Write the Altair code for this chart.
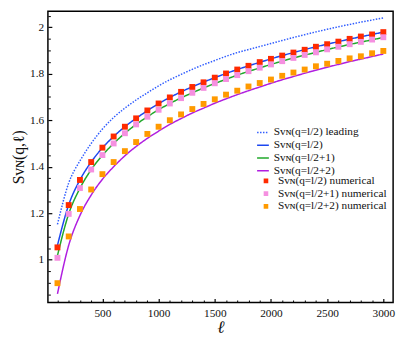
import altair as alt
import pandas as pd

# ---- data ----
ell = [100, 200, 300, 400, 500, 600, 700, 800, 900, 1000,
       1100, 1200, 1300, 1400, 1500, 1600, 1700, 1800, 1900, 2000,
       2100, 2200, 2300, 2400, 2500, 2600, 2700, 2800, 2900, 3000]

lead = [1.152, 1.330, 1.425, 1.500, 1.562, 1.612, 1.652, 1.687, 1.718, 1.748,
        1.774, 1.797, 1.819, 1.839, 1.857, 1.875, 1.891, 1.904, 1.917, 1.930,
        1.943, 1.956, 1.968, 1.980, 1.991, 2.002, 2.012, 2.022, 2.031, 2.040]
half = [1.062, 1.236, 1.343, 1.420, 1.481, 1.530, 1.572, 1.608, 1.641, 1.671,
        1.698, 1.722, 1.744, 1.764, 1.783, 1.801, 1.818, 1.834, 1.849, 1.864,
        1.878, 1.891, 1.904, 1.916, 1.927, 1.938, 1.949, 1.959, 1.969, 1.979]
half1 = [1.018, 1.197, 1.307, 1.387, 1.449, 1.500, 1.544, 1.582, 1.615, 1.645,
         1.672, 1.696, 1.718, 1.739, 1.758, 1.776, 1.794, 1.810, 1.825, 1.840,
         1.854, 1.868, 1.880, 1.892, 1.904, 1.915, 1.926, 1.936, 1.946, 1.956]
half2 = [0.853, 1.062, 1.190, 1.278, 1.346, 1.400, 1.447, 1.487, 1.522, 1.553,
         1.582, 1.607, 1.631, 1.652, 1.673, 1.692, 1.710, 1.727, 1.743, 1.759,
         1.774, 1.788, 1.802, 1.815, 1.828, 1.840, 1.852, 1.863, 1.874, 1.885]

num_half = [1.053, 1.235, 1.343, 1.420, 1.482, 1.530, 1.572, 1.608, 1.642, 1.672,
            1.698, 1.722, 1.743, 1.763, 1.783, 1.801, 1.818, 1.834, 1.850, 1.864,
            1.878, 1.891, 1.903, 1.916, 1.927, 1.938, 1.950, 1.960, 1.969, 1.979]
num_half1 = [1.008, 1.197, 1.308, 1.388, 1.450, 1.500, 1.544, 1.582, 1.615, 1.645,
             1.672, 1.695, 1.718, 1.739, 1.759, 1.777, 1.794, 1.811, 1.826, 1.840,
             1.854, 1.868, 1.881, 1.892, 1.905, 1.916, 1.927, 1.937, 1.947, 1.957]
num_half2 = [0.899, 1.100, 1.218, 1.302, 1.368, 1.420, 1.467, 1.506, 1.541, 1.572,
             1.600, 1.625, 1.648, 1.670, 1.690, 1.710, 1.727, 1.745, 1.760, 1.775,
             1.791, 1.805, 1.818, 1.832, 1.843, 1.855, 1.866, 1.875, 1.888, 1.898]

line_names = ["S\u1d20\u0274(q=l/2) leading", "S\u1d20\u0274(q=l/2)",
              "S\u1d20\u0274(q=l/2+1)", "S\u1d20\u0274(q=l/2+2)"]
point_names = ["S\u1d20\u0274(q=l/2) numerical", "S\u1d20\u0274(q=l/2+1) numerical",
               "S\u1d20\u0274(q=l/2+2) numerical"]
line_colors = ["#2f5cff", "#1c47f0", "#20a82a", "#b01ee0"]
point_colors = ["#ff2a00", "#f590e0", "#ff9a00"]

x_major = [500, 1000, 1500, 2000, 2500, 3000]
x_minor = [100, 200, 300, 400, 600, 700, 800, 900, 1100, 1200, 1300, 1400,
           1600, 1700, 1800, 1900, 2100, 2200, 2300, 2400, 2600, 2700, 2800, 2900]
y_major = [1.0, 1.2, 1.4, 1.6, 1.8, 2.0]
y_minor = [0.85, 0.9, 0.95, 1.05, 1.1, 1.15, 1.25, 1.3, 1.35, 1.45, 1.5, 1.55,
           1.65, 1.7, 1.75, 1.85, 1.9, 1.95, 2.05]

# ---- tables ----
line_rows = []
for name, vals in zip(line_names, [lead, half, half1, half2]):
    for l, v in zip(ell, vals):
        line_rows.append({"l": l, "S": v, "series": name})
lines_df = pd.DataFrame(line_rows)

pt_rows = []
for name, vals in zip(point_names, [num_half, num_half1, num_half2]):
    for l, v in zip(ell, vals):
        pt_rows.append({"l": l, "S": v, "series": name})
pts_df = pd.DataFrame(pt_rows)

SERIF = "Liberation Serif"
TXT = "#111111"
xscale = alt.Scale(domain=[15, 3087], nice=False, zero=False)
yscale = alt.Scale(domain=[0.816, 2.069], nice=False, zero=False)

x_major_axis = alt.Axis(values=x_major, orient="bottom", offset=-4, tickSize=4,
                        tickWidth=1.2, tickColor="black", domain=False, grid=False,
                        labelPadding=5, labelFont=SERIF, labelFontSize=11.5,
                        labelColor=TXT, labelFlush=False, format="d",
                        title="\u2113", titleFont=SERIF, titleFontStyle="italic",
                        titleFontWeight="normal", titleFontSize=18, titleColor=TXT,
                        titlePadding=0)
y_major_axis = alt.Axis(values=y_major, orient="left", offset=-4, tickSize=4,
                        tickWidth=1.2, tickColor="black", domain=False, grid=False,
                        labelPadding=4.4, labelFont=SERIF, labelFontSize=11.5,
                        labelColor=TXT, format="~g", labelFlush=False,
                        title="S\u1d20\u0274(q,\u2113)", titleFont=SERIF,
                        titleFontWeight="normal", titleFontSize=16, titleColor=TXT,
                        titlePadding=3)
x_minor_axis = alt.Axis(values=x_minor, orient="bottom", offset=-2.5, tickSize=2.5,
                        tickWidth=1, tickColor="black", domain=False, grid=False,
                        labels=False, title=None)
y_minor_axis = alt.Axis(values=y_minor, orient="left", offset=-2.5, tickSize=2.5,
                        tickWidth=1, tickColor="black", domain=False, grid=False,
                        labels=False, title=None)

line_legend = alt.Legend(orient="none", legendX=212.3, legendY=117.5, title=None,
                         symbolType="stroke", symbolSize=144, symbolStrokeWidth=1.5,
                         labelFont=SERIF, labelFontSize=11.5, labelColor=TXT,
                         labelFontWeight="normal",
                         labelOffset=4, rowPadding=0, clipHeight=12.4, padding=0,
                         labelLimit=300)
pt_legend = alt.Legend(orient="none", legendX=216.6, legendY=166.8, title=None,
                       symbolType="square", symbolSize=22, symbolStrokeWidth=0,
                       labelFont=SERIF, labelFontSize=11.5, labelColor=TXT,
                       labelFontWeight="normal",
                       labelOffset=6.4, rowPadding=0, clipHeight=12.4, padding=0,
                       labelLimit=300)

lines = alt.Chart(lines_df).mark_line(strokeWidth=1.5, interpolate="monotone").encode(
    x=alt.X("l:Q", scale=xscale, axis=x_major_axis),
    y=alt.Y("S:Q", scale=yscale, axis=y_major_axis),
    color=alt.Color("series:N", scale=alt.Scale(domain=line_names, range=line_colors),
                    legend=line_legend),
    strokeDash=alt.StrokeDash("series:N",
                              scale=alt.Scale(domain=line_names,
                                              range=[[1.5, 1.5], [1, 0], [1, 0], [1, 0]]),
                              legend=line_legend),
    detail="series:N",
)

points = alt.Chart(pts_df).mark_square(size=36, opacity=1).encode(
    x=alt.X("l:Q", scale=xscale, axis=x_minor_axis),
    y=alt.Y("S:Q", scale=yscale, axis=y_minor_axis),
    color=alt.Color("series:N", scale=alt.Scale(domain=point_names, range=point_colors),
                    legend=pt_legend),
)

chart = alt.layer(lines, points).resolve_scale(
    color="independent", strokeDash="independent"
).resolve_axis(
    x="independent", y="independent"
).properties(
    width=352, height=297,
    autosize=alt.AutoSizeParams(type="none"),
    padding={"left": 40.7, "top": 0, "right": 6, "bottom": 34},
    background="white",
).configure_view(
    stroke="black", strokeWidth=1.5
)

chart.save("out.html", embed_options={"renderer": "svg", "actions": False})
